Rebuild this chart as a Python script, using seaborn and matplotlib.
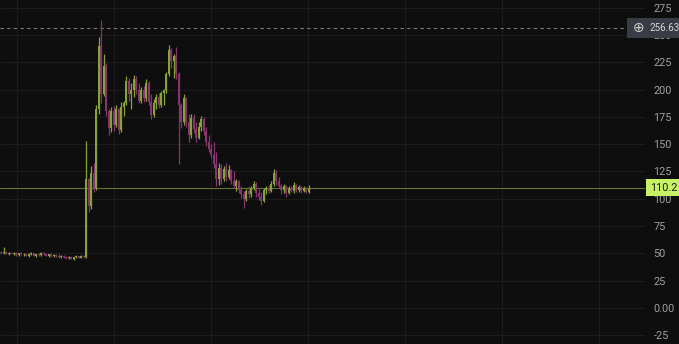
import numpy as np
import pandas as pd
import seaborn as sns
import matplotlib
matplotlib.use("Agg")
import matplotlib.pyplot as plt
import matplotlib.transforms as mtransforms

# ---------------- data ----------------
opens = [51, 50, 51, 49.5, 50.5, 49.5, 50, 48.5, 50, 49, 49.5, 48, 49.5, 50, 48, 49, 48.5, 50.5, 49, 48,
         49, 47.5, 48.5, 47.5, 46.5, 48, 46.5, 45.5, 47, 45, 46.5, 47.5, 46, 48,
         47, 118, 93, 124, 110, 182, 240, 196, 222, 180, 165, 180, 168, 182, 163, 184,
         188, 208, 196, 200, 210, 200, 190, 200, 192, 206, 189, 177, 188, 193, 186, 197,
         200, 214, 236, 226, 231, 214, 186, 170, 192, 170, 158, 174, 164, 156, 166, 173,
         162, 152, 146, 140, 132, 118, 128, 118, 127, 120, 126, 116, 112, 116, 108, 104,
         100, 107, 104, 110, 114, 105, 102, 98, 108, 110, 107, 114, 124, 116, 112, 108,
         112, 105, 110, 107, 113, 108, 111, 107, 110, 106]
highs = [52.5, 56, 52, 51.5, 51.5, 51, 51, 50.5, 51, 50.5, 50.5, 50, 51, 50.5, 49.5, 50.5, 51, 51, 50, 49.5,
         50, 49, 49.5, 49, 48.5, 48.5, 47.5, 47.5, 47.5, 47, 48.5, 48, 48.5, 48.5,
         153, 119, 130, 133, 186, 248, 264, 233, 224, 182, 184, 185, 186, 183, 189, 190,
         212, 211, 206, 213, 212, 206, 202, 203, 210, 208, 196, 191, 196, 197, 199, 201,
         216, 241, 238, 233, 239, 216, 188, 196, 193, 178, 178, 178, 170, 170, 176, 175,
         166, 158, 150, 152, 143, 133, 132, 130, 133, 131, 127, 125, 118, 117, 112, 107,
         109, 112, 112, 116, 115, 109, 106, 110, 112, 113, 116, 127, 126, 120, 114, 114,
         113, 112, 112, 115, 114, 113, 112, 112, 111, 113]
lows = [49.5, 49, 49, 48.5, 49, 48.5, 48, 47.5, 48.5, 48, 47.5, 47, 48.5, 47.5, 46.5, 48, 48, 48.5, 47.5, 46.5,
        47, 46.5, 47, 46, 45.5, 46, 44.5, 44.5, 44.5, 44, 45.5, 45.5, 45.5, 46,
        46, 88, 91, 106, 108, 178, 188, 194, 176, 158, 161, 162, 166, 159, 161, 176,
        186, 190, 182, 193, 196, 188, 188, 189, 190, 186, 173, 175, 182, 183, 184, 186,
        197, 212, 220, 211, 210, 132, 165, 168, 166, 152, 156, 160, 152, 155, 162, 158,
        148, 143, 137, 128, 112, 113, 114, 116, 116, 118, 114, 110, 107, 105, 101, 92,
        98, 101, 102, 108, 102, 99, 94, 97, 104, 105, 106, 112, 113, 110, 104, 105,
        102, 104, 106, 105, 106, 106, 105, 106, 105, 105]
closes = [50, 51, 49.5, 50.5, 49.5, 50, 48.5, 50, 49, 49.5, 48, 49.5, 50, 48, 49, 48.5, 50.5, 49, 48, 49,
          47.5, 48.5, 47.5, 46.5, 48, 46.5, 45.5, 47, 45, 46.5, 47.5, 46, 48, 47,
          118, 93, 124, 110, 182, 240, 196, 222, 180, 165, 180, 168, 182, 163, 184, 188,
          208, 196, 200, 210, 200, 190, 200, 192, 206, 189, 177, 188, 193, 186, 197, 200,
          214, 236, 226, 231, 214, 186, 170, 192, 170, 158, 174, 164, 156, 166, 173, 162,
          152, 146, 140, 132, 118, 128, 118, 127, 120, 126, 116, 112, 116, 108, 104, 100,
          107, 104, 110, 114, 105, 102, 98, 108, 110, 107, 114, 124, 116, 112, 108, 112,
          105, 110, 107, 113, 108, 111, 107, 110, 106, 110.2]
y_ticks = [-25, 0, 25, 50, 75, 100, 125, 150, 175, 200, 225, 250, 275]
last_price = 110.2
high_mark = 256.63

df = pd.DataFrame({"open": opens, "high": highs, "low": lows, "close": closes})
df["idx"] = np.arange(len(df))
df["up"] = df["close"] >= df["open"]

# ---------------- style ----------------
BG = "#0e0e0e"
GREEN = "#86a436"
MAGENTA = "#873471"
GRID = "#1c1c1c"
TXT = "#a0a0a0"
FS = 7.8

sns.set_theme(style="dark", rc={
    "axes.facecolor": BG, "figure.facecolor": BG,
    "axes.grid": True, "grid.color": GRID, "grid.linewidth": 0.8,
    "axes.edgecolor": BG,
})
plt.rcParams["font.family"] = ["Roboto", "DejaVu Sans"]

W, H = 679, 344
fig = plt.figure(figsize=(W / 100, H / 100), dpi=100)
ax = fig.add_axes([0, 0, 645 / W, 1])

colors = np.where(df["up"], GREEN, MAGENTA)
ax.vlines(df["idx"], df["low"], df["high"], colors=colors, linewidth=0.9, zorder=3)
body_bottom = np.minimum(df["open"], df["close"])
body_h = np.maximum(np.abs(df["close"] - df["open"]), 0.6)
ax.bar(df["idx"], body_h, bottom=body_bottom, width=0.8, color=colors,
       linewidth=0, zorder=3)

ax.set_xlim(-0.5, 645 / 2.5 - 0.5)
ax.set_ylim((308 - H) / 1.092, 308 / 1.092)

ax.set_xticks(np.arange(6.3, 257, 38.8))
ax.set_xticklabels([])
ax.tick_params(axis="x", length=0)
ax.set_yticks(y_ticks)
ax.yaxis.tick_right()
ax.set_yticklabels(["0.00" if v == 0 else str(v) for v in y_ticks])
ax.tick_params(axis="y", length=0, pad=6, labelsize=FS, labelcolor=TXT)
for lbl in ax.get_yticklabels():
    lbl.set_horizontalalignment("left")
ax.grid(True, color=GRID, linewidth=0.8)
for s in ax.spines.values():
    s.set_visible(False)

# last price line + label
ax.axhline(last_price, color="#66742e", linewidth=0.8, zorder=2)
trans = mtransforms.blended_transform_factory(fig.transFigure, ax.transData)
ax.text(650 / W, last_price, f"{last_price}", transform=trans, ha="left", va="center",
        fontsize=FS, color="#1b1b1b", zorder=6, clip_on=False,
        bbox=dict(boxstyle="square,pad=0.35", facecolor="#c8f266", edgecolor="none"))

# high marker dashed line + label
ax.plot([-0.5, 629 / 2.5 - 0.5], [high_mark, high_mark], color="#7a7a7a",
        linewidth=0.8, linestyle=(0, (3, 3)), zorder=2, clip_on=False)
ax.text(632 / W, high_mark, "      ", transform=trans, ha="left", va="center",
        fontsize=FS, zorder=5, clip_on=False,
        bbox=dict(boxstyle="square,pad=0.45", facecolor="#3a3c45", edgecolor="none"))
ax.text(650 / W, high_mark, f"{high_mark}", transform=trans, ha="left", va="center",
        fontsize=7.0, color="#d8d8d8", zorder=7, clip_on=False,
        bbox=dict(boxstyle="square,pad=0.5", facecolor="#3a3c45", edgecolor="none"))
ax.text(638.5 / W, high_mark, "\u2295", transform=trans, ha="center", va="center",
        fontsize=10, color="#cfcfcf", zorder=8, clip_on=False, family="DejaVu Sans")

fig.savefig("out.png", dpi=100, facecolor=BG)
